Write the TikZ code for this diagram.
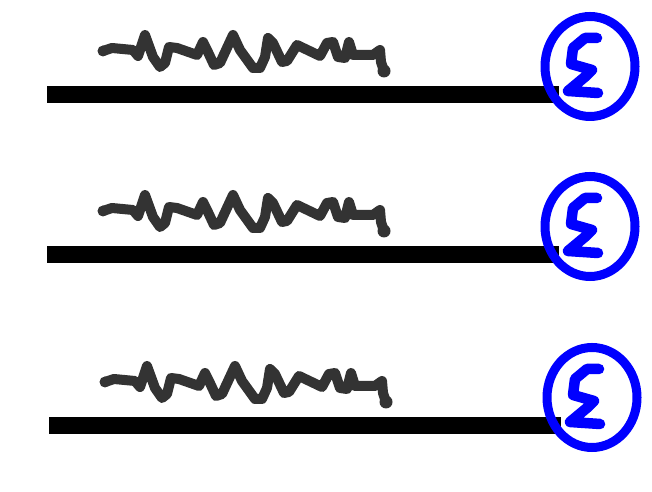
\documentclass[tikz,border=0pt]{standalone}
\definecolor{squiggle}{HTML}{333333}
\definecolor{sigmablue}{HTML}{0000FF}
\tikzset{
  barline/.style={black,line width=.17cm},
  wiggle/.style={squiggle,line width=.1cm,line cap=round,line join=round},
  sigmaline/.style={sigmablue,line width=.105cm,line cap=round,line join=round},
  ringline/.style={sigmablue,line width=.09cm}
}
\begin{document}
\begin{tikzpicture}[x=.01cm,y=-.01cm]
\useasboundingbox (0,0) rectangle (652,492);
\foreach \dx/\dy in {0/0,0/160,2/331}{
  \begin{scope}[shift={(\dx,\dy)}]
    \draw[barline] (47,94.5)--(559,94.5);
    \draw[wiggle] (103,51)--(112,48)--(133,50)--(138,56)--(145,35)--(153,57)--(160,67)--(165,63)--(169,47)
      --(177,48)--(197,55)--(203,42)--(207,50)--(214,65)--(220,63)--(233,35)--(240,50)--(253,68)--(260,68)
      --(265,57)--(268,38)--(273,43)--(282,62)--(287,61)--(297,45)--(320,56)--(327,43)--(333,42)--(338,57)
      --(345,58)--(349,42)--(353,55)--(373,55)--(380,50)--(381,62)--(384,71);
    \fill[squiggle] (103,51) circle (.055cm);
    \fill[squiggle] (384,71) circle (.065cm);
    \draw[ringline] (590,66.5) ellipse (45 and 50);
    \draw[sigmaline] (597,38)--(585,38)--(573,48)--(571,64)--(592,70)--(586,76)--(568,91)--(598,93);
  \end{scope}
}
\end{tikzpicture}
\end{document}
